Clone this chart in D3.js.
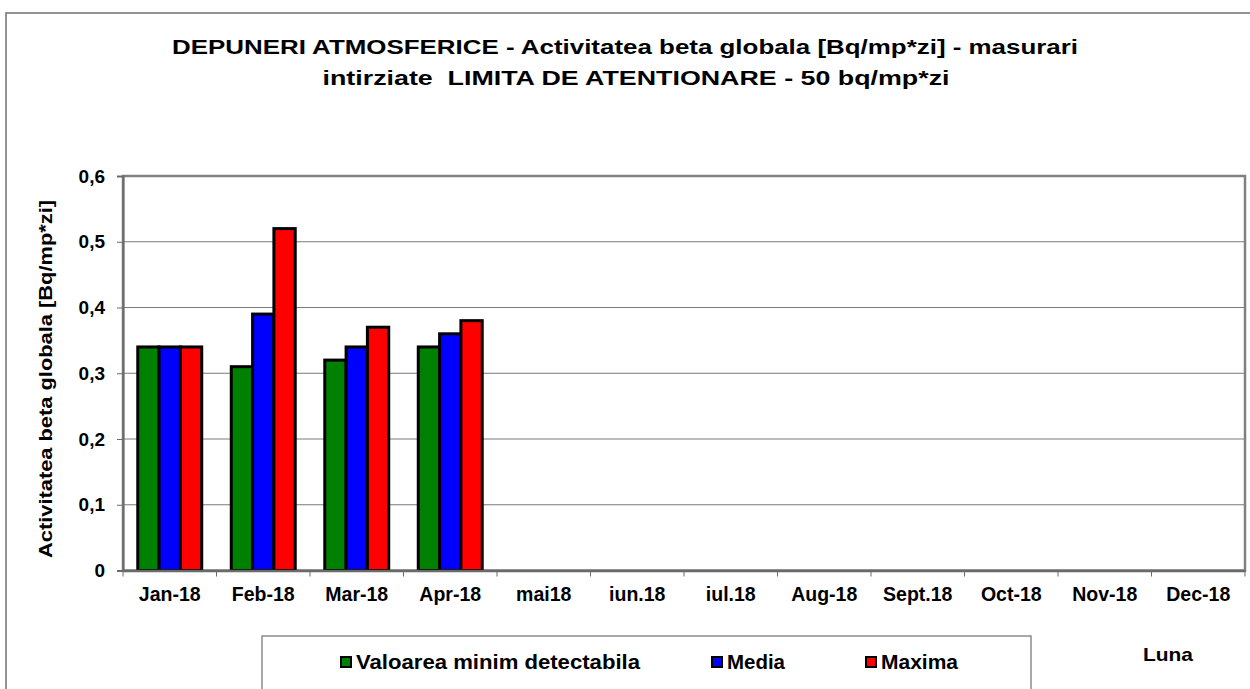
<!DOCTYPE html>
<html>
<head>
<meta charset="utf-8">
<script src="https://cdn.jsdelivr.net/npm/d3@7"></script>
<style>
  body { margin: 0; background: #fff; }
  svg text { font-family: "Liberation Sans", Arial, sans-serif; font-weight: bold; fill: #000; }
</style>
</head>
<body>
<script>
// data
var months = ['Jan-18','Feb-18','Mar-18','Apr-18','mai18','iun.18','iul.18','Aug-18','Sept.18','Oct-18','Nov-18','Dec-18'];
var seriesNames = ['Valoarea minim detectabila','Media','Maxima'];
var seriesColors = ['#008000','#0000ff','#ff0000'];
var valMinim = [0.34, 0.31, 0.32, 0.34];
var valMedia = [0.34, 0.39, 0.34, 0.36];
var valMaxima = [0.34, 0.52, 0.37, 0.38];
var yTicks = [0, 0.1, 0.2, 0.3, 0.4, 0.5, 0.6];

var svgWidth = 1250, svgheigth = 689;
var margin = {top: 176, right: 5, bottom: 118, left: 123};

var svg = d3.select("body").append("svg")
  .attr("width", svgWidth)
  .attr("height", svgheigth);

// outer chart border
svg.append("rect")
  .attr("x", 6).attr("y", 13)
  .attr("width", 1260).attr("height", 700)
  .attr("fill", "none").attr("stroke", "#6f6f6f").attr("stroke-width", 1.5);

// title
var title = svg.append("g");
title.append("text")
  .attr("x", 625).attr("y", 54)
  .attr("text-anchor", "middle")
  .attr("font-size", "21px")
  .attr("textLength", 906).attr("lengthAdjust", "spacingAndGlyphs")
  .text("DEPUNERI ATMOSFERICE - Activitatea beta globala [Bq/mp*zi] - masurari");
title.append("text")
  .attr("x", 636).attr("y", 85)
  .attr("text-anchor", "middle")
  .attr("font-size", "21px")
  .attr("textLength", 627).attr("lengthAdjust", "spacingAndGlyphs")
  .style("white-space", "pre")
  .text("intirziate  LIMITA DE ATENTIONARE - 50 bq/mp*zi");

var x = d3.scaleBand()
  .domain(months)
  .range([margin.left, svgWidth - margin.right])
  .padding(0);

var x1 = d3.scaleBand()
  .domain(seriesNames)
  .range([x.bandwidth() * 0.158, x.bandwidth() * 0.842])
  .padding(0);

var y = d3.scaleLinear()
  .domain([0, 0.6])
  .range([svgheigth - margin.bottom - 0.5, margin.top]);

var z = d3.scaleOrdinal().domain(seriesNames).range(seriesColors);

// gridlines
svg.append("g").selectAll("line")
  .data(yTicks.slice(1))
  .enter().append("line")
  .attr("x1", margin.left).attr("x2", svgWidth - margin.right)
  .attr("y1", function(d) { return y(d); })
  .attr("y2", function(d) { return y(d); })
  .attr("stroke", "#7a7a7a").attr("stroke-width", 1);

// plot frame
svg.append("rect")
  .attr("x", margin.left).attr("y", margin.top)
  .attr("width", svgWidth - margin.right - margin.left)
  .attr("height", y(0) - margin.top)
  .attr("fill", "none").attr("stroke", "#808080").attr("stroke-width", 2.5);

// bars
var rows = months.map(function(m, i) {
  return [valMinim[i], valMedia[i], valMaxima[i]];
});

var groups = svg.append("g").selectAll("g")
  .data(rows)
  .enter().append("g")
  .attr("transform", function(d, i) { return "translate(" + x(months[i]) + ",0)"; });

groups.selectAll("rect")
  .data(function(d) { return d.map(function(v, j) { return {key: seriesNames[j], value: v}; }).filter(function(o) { return o.value != null; }); })
  .enter().append("rect")
  .attr("x", function(d) { return x1(d.key); })
  .attr("width", x1.bandwidth())
  .attr("y", function(d) { return y(d.value); })
  .attr("height", function(d) { return y(0) - y(d.value); })
  .attr("fill", function(d) { return z(d.key); })
  .attr("stroke", "#000").attr("stroke-width", 3);

// y axis
var yAxis = svg.append("g")
  .attr("transform", "translate(" + margin.left + ",0)")
  .call(d3.axisLeft(y).tickValues(yTicks).tickSize(6).tickPadding(12)
    .tickFormat(function(d) { return d3.format(".1f")(d).replace(".", ",").replace(/^0,0$/, "0"); }));
yAxis.select(".domain").attr("stroke", "#6a6a6a").attr("stroke-width", 2);
yAxis.selectAll(".tick line").attr("stroke", "#6a6a6a");
yAxis.selectAll("text").attr("font-size", "19px")
  .style("font-family", "'Liberation Sans', Arial, sans-serif").style("font-weight", "bold");

// x axis
var xAxis = svg.append("g")
  .attr("transform", "translate(0," + y(0) + ")")
  .call(d3.axisBottom(x).tickSize(0).tickPadding(17));
xAxis.select(".domain").attr("stroke", "#6a6a6a").attr("stroke-width", 2.5);
xAxis.selectAll("text").attr("font-size", "19.5px")
  .style("font-family", "'Liberation Sans', Arial, sans-serif").style("font-weight", "bold");
// category separators
xAxis.append("g").selectAll("line")
  .data(months.concat(["end"]))
  .enter().append("line")
  .attr("x1", function(d, i) { return margin.left + i * x.bandwidth(); })
  .attr("x2", function(d, i) { return margin.left + i * x.bandwidth(); })
  .attr("y1", 0).attr("y2", 6)
  .attr("stroke", "#6a6a6a");

// y label
svg.append("text")
  .attr("transform", "translate(52,379) rotate(-90)")
  .attr("text-anchor", "middle")
  .attr("font-size", "19px")
  .attr("textLength", 358).attr("lengthAdjust", "spacingAndGlyphs")
  .text("Activitatea beta globala [Bq/mp*zi]");

// x label
svg.append("text")
  .attr("x", 1143).attr("y", 661)
  .attr("font-size", "19px")
  .attr("textLength", 50).attr("lengthAdjust", "spacingAndGlyphs")
  .text("Luna");

// legend
svg.append("rect")
  .attr("x", 262).attr("y", 636)
  .attr("width", 769).attr("height", 80)
  .attr("fill", "#fff").attr("stroke", "#6f6f6f").attr("stroke-width", 1.2);

var legendX = [341, 712, 866];
var legendLen = [284, 58, 77];
var leg = svg.append("g").selectAll("g")
  .data(seriesNames)
  .enter().append("g")
  .attr("transform", function(d, i) { return "translate(" + legendX[i] + ",657)"; });
leg.append("rect")
  .attr("width", 10).attr("height", 10)
  .attr("fill", function(d) { return z(d); })
  .attr("stroke", "#000").attr("stroke-width", 2);
leg.append("text")
  .attr("x", 15).attr("y", 12)
  .attr("font-size", "19.5px")
  .attr("textLength", function(d, i) { return legendLen[i]; })
  .attr("lengthAdjust", "spacingAndGlyphs")
  .text(function(d) { return d; });
</script>
</body>
</html>
